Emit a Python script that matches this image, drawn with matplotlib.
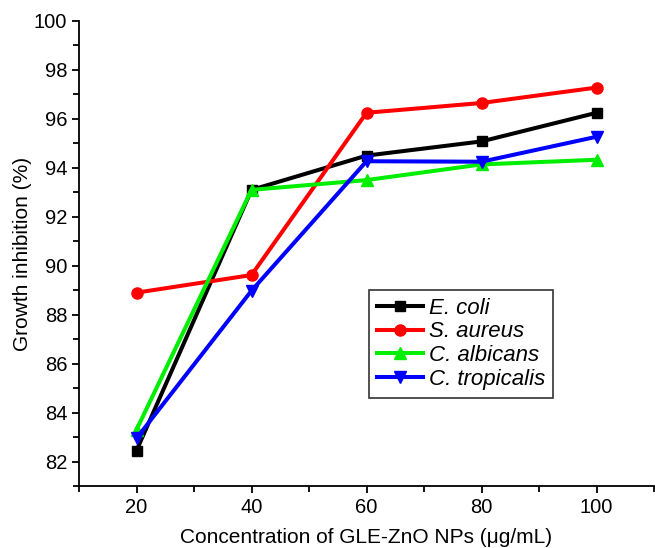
import matplotlib
matplotlib.use("Agg")
import matplotlib.pyplot as plt
from matplotlib.ticker import MultipleLocator

plt.rcParams.update({'font.family': 'Liberation Sans'})

# Growth inhibition (%) at each GLE-ZnO NP concentration
conc = [20, 40, 60, 80, 100]
e_coli = [82.45, 93.1, 94.5, 95.08, 96.25]
s_aureus = [88.9, 89.62, 96.25, 96.65, 97.28]
c_albicans = [83.3, 93.1, 93.5, 94.14, 94.33]
c_tropicalis = [82.95, 88.98, 94.27, 94.25, 95.27]

series = [
    ('E. coli', e_coli, 'black', 's', 7),
    ('S. aureus', s_aureus, 'red', 'o', 8),
    ('C. albicans', c_albicans, '#00ee00', '^', 8.5),
    ('C. tropicalis', c_tropicalis, 'blue', 'v', 8.5),
]

fig = plt.figure(figsize=(6.55, 5.48), dpi=100)
ax = fig.add_axes([0.1206, 0.1131, 0.878, 0.8486])

for name, vals, col, mk, ms in series:
    ax.plot(conc, vals, color=col, marker=mk, markersize=ms, linewidth=2.9, label=name)

ax.set_xlim(10, 110)
ax.set_ylim(81, 100)
ax.xaxis.set_major_locator(MultipleLocator(20))
ax.xaxis.set_minor_locator(MultipleLocator(10))
ax.yaxis.set_major_locator(MultipleLocator(2))
ax.yaxis.set_minor_locator(MultipleLocator(1))

for side in ('top', 'right'):
    ax.spines[side].set_visible(False)
for side in ('left', 'bottom'):
    ax.spines[side].set_linewidth(1.3)

ax.tick_params(which='both', direction='out', width=1.3, labelsize=14.5)
ax.tick_params(which='major', length=5)
ax.tick_params(which='minor', length=4)

ax.set_xlabel('Concentration of GLE-ZnO NPs (μg/mL)', fontsize=15, labelpad=8)
ax.set_ylabel('Growth inhibition (%)', fontsize=15, labelpad=1)

leg = ax.legend(loc='upper left', bbox_to_anchor=(0.504, 0.4215), frameon=True,
                fancybox=False, edgecolor='black', handlelength=2.1,
                handletextpad=0.25, borderpad=0.35, labelspacing=0.12,
                borderaxespad=0, prop={'style': 'italic', 'size': 16})
leg.get_frame().set_linewidth(1.2)

fig.savefig('out.png', dpi=100)
